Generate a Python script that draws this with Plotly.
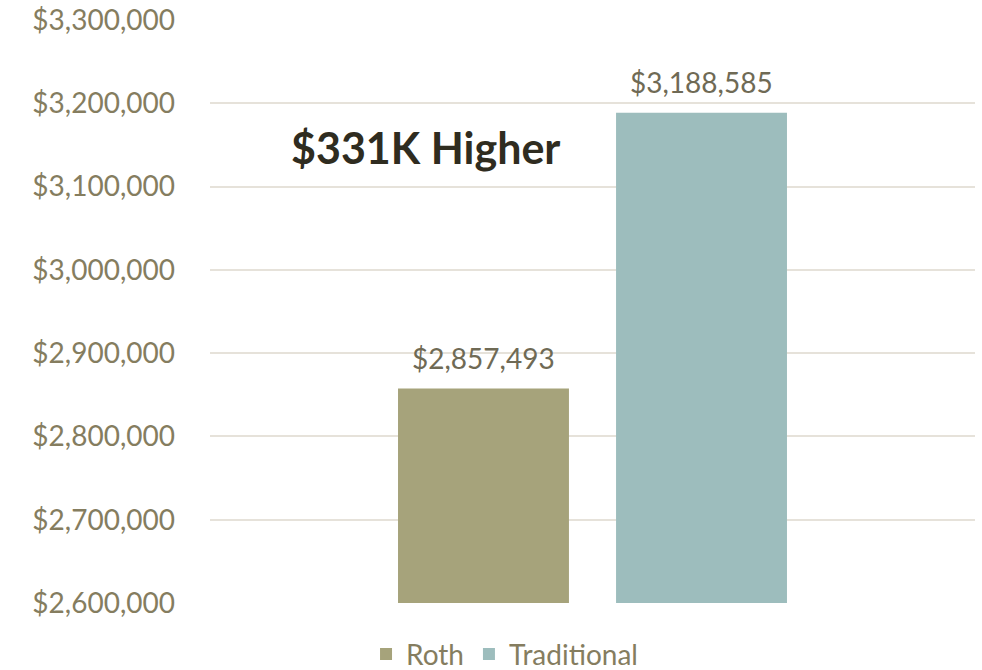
import plotly.graph_objects as go

series_names = ["Roth", "Traditional"]
values = [2857493, 3188585]
colors = ["#A6A37B", "#9DBDBD"]
category = ["Total"]
tick_vals = [2600000, 2700000, 2800000, 2900000, 3000000, 3100000, 3200000, 3300000]
headline = "$331K Higher"

FONT = "Lato"
BARGAP = 0.43
fig = go.Figure()
for name, v, c in zip(series_names, values, colors):
    fig.add_trace(go.Bar(
        x=category, y=[v], name=name, marker=dict(color=c, line=dict(width=0)),
    ))

n = len(values)
slot = (1 - BARGAP) / n
annotations = []
for i, v in enumerate(values):
    xc = -(1 - BARGAP) / 2 + slot * (i + 0.5)
    annotations.append(dict(text=f"${v:,.0f}", x=xc, xref="x", y=v, yref="y",
                            yanchor="bottom", yshift=12, showarrow=False,
                            font=dict(family=FONT, size=28, color="#6F6A55")))
annotations.append(dict(text=f"<b>{headline}</b>", x=0.282, xref="paper", xanchor="center",
                        y=3147500, yref="y", showarrow=False,
                        font=dict(family=FONT, size=43, color="#2F2C20")))

fig.update_layout(
    width=982, height=670,
    margin=dict(l=210, r=7, t=20, b=67, autoexpand=False),
    paper_bgcolor="white", plot_bgcolor="white",
    barmode="group", bargap=BARGAP, bargroupgap=0.216,
    font=dict(family=FONT, size=28, color="#857D5F"),
    showlegend=True,
    legend=dict(orientation="h", x=0.385, xanchor="center", y=-0.045, yanchor="top",
                font=dict(family=FONT, size=28, color="#857D5F"),
                traceorder="normal"),
    annotations=annotations,
)
fig.update_xaxes(showticklabels=False, showgrid=False, showline=False)
fig.update_yaxes(range=[2600000, 3300000], tickvals=tick_vals,
                 ticktext=[f"${t:,.0f}" for t in tick_vals],
                 showgrid=True, gridcolor="#E6E2DA", gridwidth=2, zeroline=False,
                 ticklabelstandoff=34, tickfont=dict(family=FONT, size=28, color="#857D5F"))

fig.write_html("out.html")
